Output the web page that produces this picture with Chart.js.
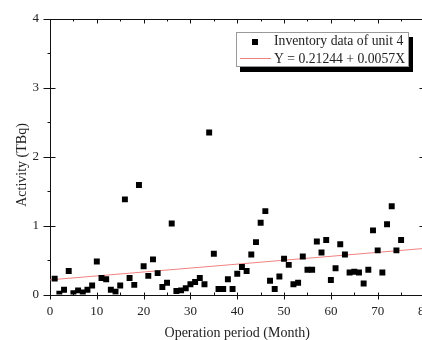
<!DOCTYPE html>
<html>
<head>
<meta charset="utf-8">
<script src="https://cdn.jsdelivr.net/npm/chart.js@4.4.1/dist/chart.umd.min.js"></script>
<style>
  html, body { margin: 0; padding: 0; background: #fff; overflow: hidden; }
  #wrap { width: 440px; height: 340px; }
</style>
</head>
<body>
<div id="wrap"><canvas id="chart" width="440" height="340"></canvas></div>
<script>
// Data
const months = [
  1, 2, 3, 4, 5, 6, 7, 8, 9, 10, 11, 12, 13, 14, 15, 16, 17, 18, 19, 20,
  21, 22, 23, 24, 25, 26, 27, 28, 29, 30, 31, 32, 33, 34, 35, 36, 37, 38, 39, 40,
  41, 42, 43, 44, 45, 46, 47, 48, 49, 50, 51, 52, 53, 54, 55, 56, 57, 58, 59, 60,
  61, 62, 63, 64, 65, 66, 67, 68, 69, 70, 71, 72, 73, 74, 75
];
const activity = [
  0.23, 0.01, 0.07, 0.34, 0.02, 0.06, 0.03, 0.07, 0.13, 0.48,
  0.24, 0.22, 0.07, 0.04, 0.13, 1.38, 0.24, 0.14, 1.59, 0.41,
  0.27, 0.51, 0.31, 0.11, 0.17, 1.03, 0.05, 0.06, 0.09, 0.15,
  0.18, 0.24, 0.15, 2.35, 0.59, 0.08, 0.08, 0.22, 0.08, 0.30,
  0.40, 0.34, 0.58, 0.76, 1.04, 1.21, 0.20, 0.08, 0.26, 0.52,
  0.43, 0.15, 0.17, 0.55, 0.36, 0.36, 0.77, 0.61, 0.79, 0.21,
  0.38, 0.73, 0.58, 0.32, 0.33, 0.32, 0.16, 0.36, 0.93, 0.64,
  0.32, 1.02, 1.28, 0.64, 0.79
];
// fit line end points, Y = 0.21244 + 0.0057X
const fitX = [0, 80];
const fitY = [0.21244, 0.66844];

const seriesName = "Inventory data of unit 4";
const fitName = "Y = 0.21244 + 0.0057X";
const xTitle = "Operation period (Month)";
const yTitle = "Activity (TBq)";

const serif = "'Liberation Serif', 'DejaVu Serif', serif";
const fitColor = "rgb(240, 130, 130)";

// Frame, ticks, y title
const framePlugin = {
  id: "frame",
  beforeDatasetsDraw(chart) {
    const ctx = chart.ctx;
    const a = chart.chartArea;
    const xs = chart.scales.x;
    const ys = chart.scales.y;
    const L = Math.round(a.left) + 0.5;
    const R = Math.round(a.right) + 0.5;
    const T = Math.round(a.top) + 0.5;
    const B = Math.round(a.bottom) + 0.5;
    ctx.save();
    ctx.strokeStyle = "#111";
    ctx.lineWidth = 1;
    ctx.beginPath();
    ctx.rect(L, T, R - L, B - T);

    // x ticks, bottom and top
    for (let v = 0; v <= 80; v += 5) {
      const px = Math.round(xs.getPixelForValue(v)) + 0.5;
      const major = v % 10 === 0;
      ctx.moveTo(px, B - 3);
      ctx.lineTo(px, major ? B + 4 : B);
      ctx.moveTo(px, T);
      ctx.lineTo(px, T + (major ? 4 : 2));
    }
    // y ticks, left and right
    for (let v = 0; v <= 4; v += 0.5) {
      const py = Math.round(ys.getPixelForValue(v)) + 0.5;
      const major = v % 1 === 0;
      ctx.moveTo(major ? L - 7 : L - 3, py);
      ctx.lineTo(major ? L + 5 : L, py);
      ctx.moveTo(R, py);
      ctx.lineTo(R - (major ? 6 : 3), py);
    }
    ctx.stroke();

    // y title
    ctx.fillStyle = "#222";
    ctx.font = "14px " + serif;
    ctx.textAlign = "center";
    ctx.textBaseline = "middle";
    ctx.translate(22, 165);
    ctx.rotate(-Math.PI / 2);
    ctx.fillText(yTitle, 0, 0);
    ctx.restore();
  }
};

// Legend box with black drop shadow, drawn last
const legendPlugin = {
  id: "legendBox",
  afterDraw(chart) {
    const ctx = chart.ctx;
    const bx = 236, by = 32, bw = 173, bh = 35;
    ctx.save();
    ctx.fillStyle = "#000";
    ctx.fillRect(bx + 4, by + 5, bw, bh);
    ctx.fillStyle = "#fff";
    ctx.fillRect(bx, by, bw, bh);
    ctx.strokeStyle = "#999";
    ctx.lineWidth = 1;
    ctx.strokeRect(bx + 0.5, by + 0.5, bw - 1, bh - 1);

    // marker row
    ctx.fillStyle = "#000";
    ctx.fillRect(252, 39, 6, 6);
    // line row
    ctx.strokeStyle = fitColor;
    ctx.beginPath();
    ctx.moveTo(240, 58.5);
    ctx.lineTo(271, 58.5);
    ctx.stroke();

    ctx.fillStyle = "#222";
    ctx.font = "13.7px " + serif;
    ctx.textAlign = "left";
    ctx.textBaseline = "middle";
    ctx.fillText(seriesName, 274, 41.5);
    ctx.fillText(fitName, 274, 59);
    ctx.restore();
  }
};

const points = months.map((m, i) => ({ x: m, y: activity[i] }));
const fitPoints = fitX.map((x, i) => ({ x: x, y: fitY[i] }));

new Chart(document.getElementById("chart"), {
  type: "scatter",
  data: {
    datasets: [
      {
        label: fitName,
        type: "line",
        data: fitPoints,
        borderColor: fitColor,
        borderWidth: 1,
        pointRadius: 0,
        fill: false,
        order: 2
      },
      {
        label: seriesName,
        data: points,
        pointStyle: "rect",
        pointRadius: 4.2,
        borderWidth: 0,
        backgroundColor: "#000",
        borderColor: "#000",
        order: 1
      }
    ]
  },
  options: {
    responsive: false,
    animation: false,
    layout: { padding: { top: 16, right: 13, left: 0, bottom: 0 } },
    plugins: {
      legend: { display: false },
      tooltip: { enabled: false }
    },
    scales: {
      x: {
        type: "linear",
        min: 0,
        max: 80,
        grid: { display: false, drawTicks: false },
        border: { display: false },
        ticks: {
          stepSize: 10,
          padding: 9,
          color: "#222",
          font: { family: serif, size: 13 }
        },
        title: {
          display: true,
          text: xTitle,
          color: "#222",
          padding: 0,
          font: { family: serif, size: 14, lineHeight: 1 }
        },
        afterFit(s) { s.height = 45.5; }
      },
      y: {
        min: 0,
        max: 4,
        grid: { display: false, drawTicks: false },
        border: { display: false },
        ticks: {
          stepSize: 1,
          padding: 11,
          color: "#222",
          font: { family: serif, size: 13 }
        },
        afterFit(s) { s.width = 50; }
      }
    }
  },
  plugins: [framePlugin, legendPlugin]
});
</script>
</body>
</html>
